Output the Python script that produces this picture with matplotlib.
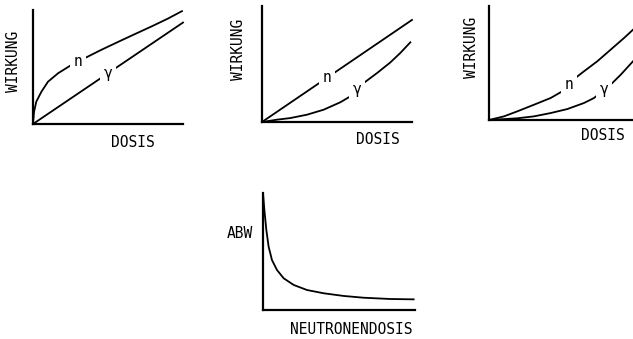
import numpy as np
import matplotlib
matplotlib.use('Agg')
import matplotlib.pyplot as plt

# relative dose vs. relative effect
dose_a_n = [0.0, 0.007, 0.022, 0.056, 0.10, 0.167, 0.256, 0.356, 0.456, 0.567, 0.678, 0.789, 0.90, 0.993]
eff_a_n = [0.0, 0.108, 0.196, 0.283, 0.371, 0.445, 0.518, 0.585, 0.651, 0.72, 0.788, 0.855, 0.925, 0.99]
dose_a_g = [0.0, 1.0]
eff_a_g = [0.0, 0.89]

dose_b_n = [0.0, 1.0]
eff_b_n = [0.0, 0.88]
dose_b_g = [0.0, 0.10, 0.189, 0.30, 0.411, 0.522, 0.589, 0.678, 0.767, 0.856, 0.922, 0.989]
eff_b_g = [0.0, 0.02, 0.034, 0.063, 0.106, 0.17, 0.221, 0.336, 0.422, 0.514, 0.595, 0.687]

dose_c_n = [0.0, 0.10, 0.189, 0.30, 0.411, 0.489, 0.556, 0.633, 0.722, 0.811, 0.90, 0.96]
eff_c_n = [0.0, 0.032, 0.076, 0.134, 0.193, 0.252, 0.348, 0.427, 0.515, 0.617, 0.719, 0.792]
dose_c_g = [0.0, 0.189, 0.30, 0.411, 0.522, 0.633, 0.70, 0.811, 0.878, 0.96]
eff_c_g = [0.0, 0.015, 0.032, 0.061, 0.096, 0.149, 0.193, 0.31, 0.397, 0.515]

# RBW (ABW) vs. neutron dose
ndose = [0.0, 0.009, 0.022, 0.037, 0.059, 0.092, 0.136, 0.202, 0.289, 0.399, 0.531, 0.662, 0.838, 0.991]
rbw = [1.0, 0.855, 0.684, 0.541, 0.427, 0.342, 0.271, 0.214, 0.171, 0.143, 0.12, 0.105, 0.094, 0.091]

FONT = dict(family='DejaVu Sans Mono', fontsize=10.5, color='black')
W, H = 633, 339


def panel(x0, ytop, w, h):
    ax = fig.add_axes([x0 / W, 1 - (ytop + h) / H, w / W, h / H])
    ax.set_xlim(0, 1)
    ax.set_ylim(0, 1)
    for s in ['top', 'right']:
        ax.spines[s].set_visible(False)
    for s in ['left', 'bottom']:
        ax.spines[s].set_linewidth(1.6)
    ax.set_xticks([])
    ax.set_yticks([])
    ax.patch.set_alpha(0)
    return ax


def curve(ax, x, y, label=None, lx=0.0):
    ax.plot(x, y, color='black', lw=1.3, clip_on=False, solid_joinstyle='round')
    if label:
        ly = np.interp(lx, x, y)
        ax.text(lx, ly, label, ha='center', va='center',
                bbox=dict(fc='white', ec='none', pad=2.5), **FONT)


fig = plt.figure(figsize=(W / 100, H / 100), dpi=100)

ax1 = panel(33, 10, 150, 114)
curve(ax1, dose_a_n, eff_a_n, 'n', 0.30)
curve(ax1, dose_a_g, eff_a_g, 'γ', 0.50)

ax2 = panel(262, 6, 150, 116)
curve(ax2, dose_b_n, eff_b_n, 'n', 0.433)
curve(ax2, dose_b_g, eff_b_g, 'γ', 0.633)

ax3 = panel(489, 6, 150, 114)
curve(ax3, dose_c_n, eff_c_n, 'n', 0.533)
curve(ax3, dose_c_g, eff_c_g, 'γ', 0.767)

ax4 = panel(263, 193, 152, 117)
curve(ax4, ndose, rbw)

fig.text(14 / W, 1 - 61 / H, 'WIRKUNG', rotation=90, ha='center', va='center', **FONT)
fig.text(238.5 / W, 1 - 49 / H, 'WIRKUNG', rotation=90, ha='center', va='center', **FONT)
fig.text(471 / W, 1 - 47 / H, 'WIRKUNG', rotation=90, ha='center', va='center', **FONT)
fig.text(132.5 / W, 1 - 142.5 / H, 'DOSIS', ha='center', va='center', **FONT)
fig.text(377.5 / W, 1 - 139 / H, 'DOSIS', ha='center', va='center', **FONT)
fig.text(603 / W, 1 - 136 / H, 'DOSIS', ha='center', va='center', **FONT)
fig.text(240 / W, 1 - 233 / H, 'ABW', ha='center', va='center', **FONT)
fig.text(351.5 / W, 1 - 329 / H, 'NEUTRONENDOSIS', ha='center', va='center', **FONT)

fig.savefig('out.png', dpi=100)
